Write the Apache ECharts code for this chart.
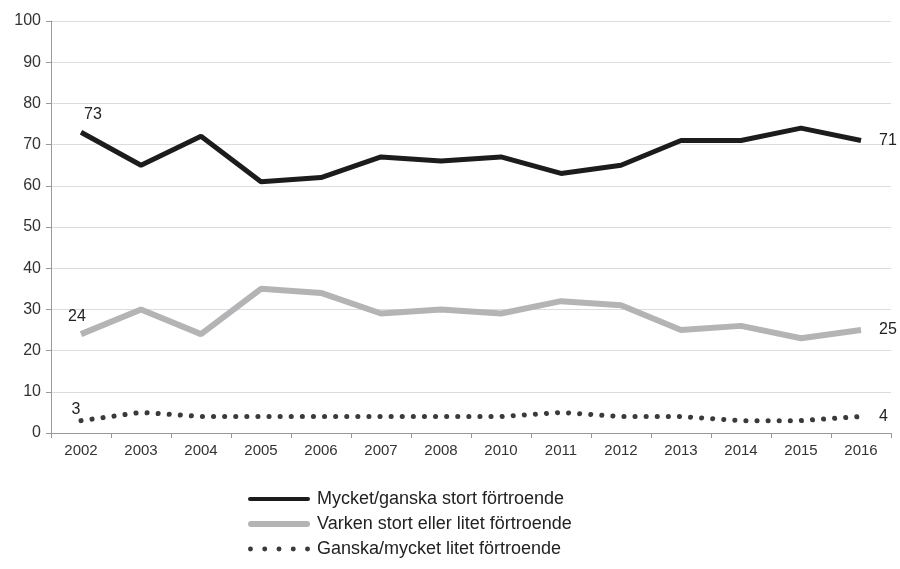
<!DOCTYPE html>
<html>
<head>
<meta charset="utf-8">
<script src="https://cdn.jsdelivr.net/npm/echarts@6/dist/echarts.min.js"></script>
<style>
  html, body { margin: 0; padding: 0; background: #fff; }
  #main { width: 900px; height: 569px; }
</style>
</head>
<body>
<div id="main"></div>
<script>
const years = ['2002', '2003', '2004', '2005', '2006', '2007', '2008', '2010', '2011', '2012', '2013', '2014', '2015', '2016'];
const storts = [73, 65, 72, 61, 62, 67, 66, 67, 63, 65, 71, 71, 74, 71];
const varken = [24, 30, 24, 35, 34, 29, 30, 29, 32, 31, 25, 26, 23, 25];
const litet = [3, 5, 4, 4, 4, 4, 4, 4, 5, 4, 4, 3, 3, 4];
const names = ['Mycket/ganska stort förtroende', 'Varken stort eller litet förtroende', 'Ganska/mycket litet förtroende'];

const font = 'Liberation Sans, Arial, sans-serif';

// first and last point get a value label
function withEndLabels(values, firstLabel, lastLabel) {
    return values.map((v, i) => {
        if (i === 0) return { value: v, label: Object.assign({ show: true }, firstLabel) };
        if (i === values.length - 1) return { value: v, label: Object.assign({ show: true }, lastLabel) };
        return v;
    });
}

const lblStyle = { fontFamily: font, fontSize: 16, color: '#222' };

// legend icons
const barIcon = 'path://M2,0 H60 A2,2 0 0 1 60,4 H2 A2,2 0 0 1 2,0 Z';
const fatIcon = 'path://M3,0 H59 A3,3 0 0 1 59,6 H3 A3,3 0 0 1 3,0 Z';
let dots = '';
for (let k = 0; k < 5; k++) {
    const cx = 2 + k * 11.5;
    dots += 'M' + (cx - 2) + ',2 A2,2 0 1 0 ' + (cx + 2) + ',2 A2,2 0 1 0 ' + (cx - 2) + ',2 Z ';
}
const dotIcon = 'path://' + dots;

let myChart = echarts.init(document.getElementById('main'));
myChart.setOption({
    animation: false,
    textStyle: { fontFamily: font },
    grid: { left: 51, right: 9, top: 21, bottom: 136 },
    legend: {
        orient: 'vertical',
        left: 243,
        top: 485,
        itemWidth: 62,
        itemHeight: 14,
        itemGap: 7,
        textStyle: { fontFamily: font, fontSize: 18, color: '#222', padding: [0, 0, 0, 2] },
        data: [
            { name: names[0], icon: barIcon },
            { name: names[1], icon: fatIcon },
            { name: names[2], icon: dotIcon }
        ]
    },
    xAxis: {
        type: 'category',
        data: years,
        boundaryGap: true,
        axisLine: { lineStyle: { color: '#999', width: 1 } },
        axisTick: { show: true, length: 5, lineStyle: { color: '#999' } },
        axisLabel: { fontFamily: font, fontSize: 15, color: '#333', margin: 10 }
    },
    yAxis: {
        type: 'value',
        min: 0,
        max: 100,
        interval: 10,
        axisLine: { show: true, lineStyle: { color: '#999', width: 1 } },
        axisTick: { show: true, length: 5, lineStyle: { color: '#999' } },
        splitLine: { lineStyle: { color: '#dcdcdc', width: 1 } },
        axisLabel: { fontFamily: font, fontSize: 16, color: '#333', margin: 10 }
    },
    series: [
        {
            name: names[0],
            type: 'line',
            symbol: 'circle',
            symbolSize: 0.1,
            color: '#1c1c1c',
            lineStyle: { width: 5, color: '#1c1c1c' },
            data: withEndLabels(storts,
                Object.assign({ position: 'top', offset: [12, -5] }, lblStyle),
                Object.assign({ position: 'right', distance: 18 }, lblStyle))
        },
        {
            name: names[1],
            type: 'line',
            symbol: 'circle',
            symbolSize: 0.1,
            color: '#b4b4b6',
            lineStyle: { width: 6, color: '#b4b4b6' },
            data: withEndLabels(varken,
                Object.assign({ position: 'top', offset: [-4, -4] }, lblStyle),
                Object.assign({ position: 'right', distance: 18 }, lblStyle))
        },
        {
            name: names[2],
            type: 'line',
            symbol: 'circle',
            symbolSize: 0.1,
            color: '#3a3a3a',
            lineStyle: { width: 5, color: '#3a3a3a', type: [0.1, 11], cap: 'round' },
            data: withEndLabels(litet,
                Object.assign({ position: 'top', offset: [-5, 2] }, lblStyle),
                Object.assign({ position: 'right', distance: 18 }, lblStyle))
        }
    ]
});
</script>
</body>
</html>
